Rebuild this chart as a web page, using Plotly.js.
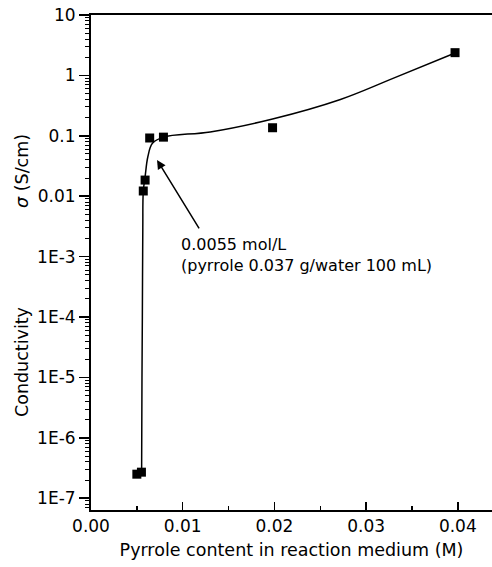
<!DOCTYPE html>
<html>
<head>
<meta charset="utf-8">
<script src="https://cdn.plot.ly/plotly-3.0.1.min.js"></script>
<style>html,body{margin:0;padding:0;background:#fff;}#chart{width:492px;height:567px;}</style>
</head>
<body>
<div id="chart"></div>
<script>
// Measured points
const pointX = [0.0050, 0.0055, 0.0057, 0.0059, 0.0064, 0.0079, 0.0198, 0.0397];
const pointY = [2.5e-7, 2.7e-7, 0.0122, 0.0185, 0.092, 0.095, 0.136, 2.38];
// Fitted curve
const curveX = [0.00552, 0.00556, 0.00560, 0.00565, 0.00570, 0.00590, 0.00620, 0.00670, 0.00790, 0.0130, 0.0198, 0.0272, 0.0326, 0.0397];
const curveY = [2.8e-7, 1e-5, 1e-4, 3e-3, 0.012, 0.021, 0.045, 0.075, 0.095, 0.116, 0.19, 0.40, 0.85, 2.35];
// Tick labels
const yTickVals = [10, 1, 0.1, 0.01, 1e-3, 1e-4, 1e-5, 1e-6, 1e-7];
const yTickText = ["10", "1", "0.1", "0.01", "1E-3", "1E-4", "1E-5", "1E-6", "1E-7"];
const xTickVals = [0, 0.01, 0.02, 0.03, 0.04];
const xTickText = ["0.00", "0.01", "0.02", "0.03", "0.04"];

const yMinor = [];
for (let e = -8; e <= 0; e++) for (let m = 2; m <= 9; m++) yMinor.push(m * Math.pow(10, e));

const font = "DejaVu Sans, Liberation Sans, sans-serif";

const traces = [
  {x: curveX, y: curveY, mode: "lines", type: "scatter",
   line: {color: "#000", width: 1.5, shape: "spline", smoothing: 1.0}, hoverinfo: "skip"},
  {x: pointX, y: pointY, mode: "markers", type: "scatter",
   marker: {symbol: "square", size: 9, color: "#000"}}
];

const layout = {
  width: 492, height: 567,
  margin: {l: 91, r: 0, t: 15, b: 57},
  paper_bgcolor: "#fff", plot_bgcolor: "#fff",
  showlegend: false,
  font: {family: font, color: "#000", size: 16},
  xaxis: {
    range: [0, 0.04373], showgrid: false, zeroline: false,
    showline: true, linecolor: "#000", linewidth: 2, mirror: true,
    ticks: "inside", ticklen: 8, tickwidth: 1.5, tickcolor: "#000",
    tickmode: "array", tickvals: xTickVals, ticktext: xTickText,
    tickfont: {size: 17, family: font},
    minor: {ticks: "inside", ticklen: 4, tickwidth: 1.5, tickcolor: "#000", tickvals: [0.005, 0.015, 0.025, 0.035]},
    title: {text: "Pyrrole content in reaction medium (M)", font: {size: 17.5, family: font}, standoff: 8}
  },
  yaxis: {
    type: "log", range: [-7.195, 1], showgrid: false, zeroline: false,
    showline: true, linecolor: "#000", linewidth: 2,
    ticks: "outside", ticklen: 10, tickwidth: 1.5, tickcolor: "#000",
    tickmode: "array", tickvals: yTickVals, ticktext: yTickText,
    tickfont: {size: 17, family: font},
    minor: {ticks: "outside", ticklen: 4, tickwidth: 1, tickcolor: "#000", tickvals: yMinor}
  },
  annotations: [
    {xref: "paper", yref: "paper", x: -0.172, y: 0.685, xanchor: "center", yanchor: "middle",
     text: "<i>σ</i> (S/cm)", textangle: -90, showarrow: false, font: {size: 17.5, family: font}},
    {xref: "paper", yref: "paper", x: -0.172, y: 0.299, xanchor: "center", yanchor: "middle",
     text: "Conductivity", textangle: -90, showarrow: false, font: {size: 17.5, family: font}},
    {x: 0.0072, y: -1.40, xref: "x", yref: "y", text: "", showarrow: true,
     ax: 43, ay: 70, arrowhead: 2, arrowsize: 1.2, arrowwidth: 1.5, arrowcolor: "#000"},
    {x: 0.0096, y: -2.98, xref: "x", yref: "y", xanchor: "left", yanchor: "middle", align: "left",
     text: "0.0055 mol/L<br>(pyrrole 0.037 g/water 100 mL)",
     showarrow: false, font: {size: 16, family: font}}
  ]
};

Plotly.newPlot("chart", traces, layout, {staticPlot: true, displayModeBar: false});
</script>
</body>
</html>
